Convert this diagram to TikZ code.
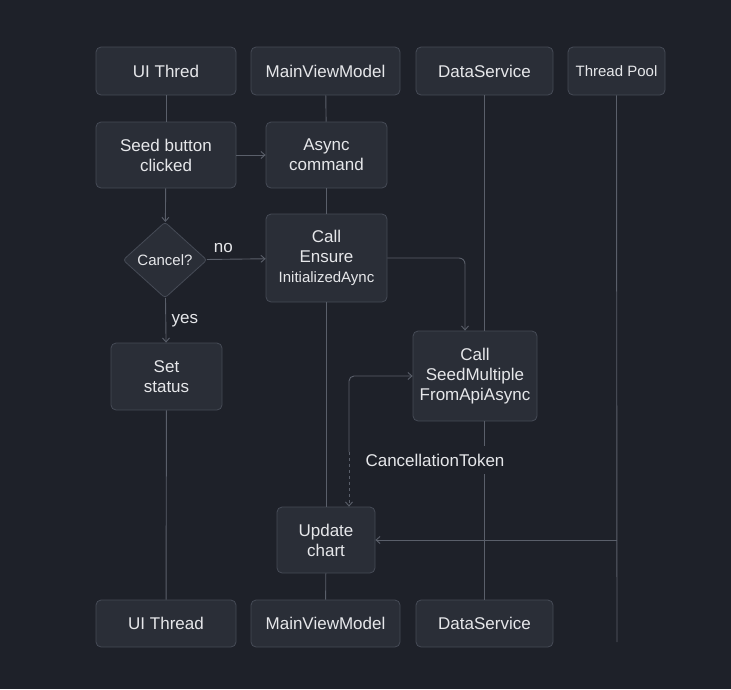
\documentclass[tikz,border=0pt]{standalone}
\usepackage{fontspec}
\setmainfont{Liberation Sans}
\usetikzlibrary{shapes.geometric,arrows.meta}
\definecolor{cbg}{HTML}{1E2129}
\definecolor{cbox}{HTML}{2A2E37}
\definecolor{cedge}{HTML}{464B56}
\definecolor{cline}{HTML}{5A5F6A}
\definecolor{ctext}{HTML}{E6E7EA}
\tikzset{seqdiag/.style={x=1pt,y=-1pt,font=\fontsize{17}{20}\selectfont,text=ctext},
  box/.style={draw=cedge,fill=cbox,rounded corners=5pt,align=center,inner sep=0pt,line width=0.8pt},
  narrow/.style={font=\fontsize{15}{20}\selectfont},
  life/.style={draw=cline,line width=0.9pt},
  flow/.style={life,-{Straight Barb[length=4pt,width=7pt]}}}

\begin{document}
\begin{tikzpicture}[seqdiag]
    \fill[cbg] (0,0) rectangle (731,689);
    % lane headers
    \node[box,minimum width=140pt,minimum height=48pt] (uitop) at (166,71) {UI Thred};
    \node[box,minimum width=149pt,minimum height=48pt] (mvmtop) at (325.5,71) {MainViewModel};
    \node[box,minimum width=137pt,minimum height=48pt] (dstop) at (484.5,71) {DataService};
    \node[box,narrow,minimum width=97pt,minimum height=48pt] (tptop) at (616.5,71) {Thread Pool};
    % steps
    \node[box,minimum width=140pt,minimum height=66pt] (seed) at (166,155) {Seed button\\clicked};
    \node[box,minimum width=121pt,minimum height=66pt] (async) at (326.5,155) {Async\\command};
    \node[box,diamond,narrow,minimum width=84pt,minimum height=76pt,rounded corners=3pt] (cancel) at (165,260) {Cancel?};
    \node[box,minimum width=121pt,minimum height=88pt] (ensure) at (326.5,258) {Call\\Ensure\\{\fontsize{15}{20}\selectfont InitializedAync}};
    \node[box,minimum width=124pt,minimum height=90pt] (seedapi) at (475,376) {Call\\SeedMultiple\\FromApiAsync};
    \node[box,minimum width=111pt,minimum height=67pt] (setst) at (166.5,376.5) {Set\\status};
    \node[box,minimum width=98pt,minimum height=66pt] (update) at (326,540) {Update\\chart};
    \node[inner sep=8pt] (token) at (435,460) {CancellationToken};
    % lane footers
    \node[box,minimum width=140pt,minimum height=47pt] (uibot) at (166,623.5) {UI Thread};
    \node[box,minimum width=149pt,minimum height=47pt] (mvmbot) at (325.5,623.5) {MainViewModel};
    \node[box,minimum width=137pt,minimum height=47pt] (dsbot) at (484.5,623.5) {DataService};
    \coordinate (tpend) at (617,642);
    \coordinate (tpc) at (617,540);
    \coordinate (tokc) at (349,452);
    % lifelines
    \draw[life] (uitop) -- (seed);
    \draw[life] (setst) -- (uibot);
    \draw[life] (mvmtop) -- (async);
    \draw[life] (async) -- (ensure);
    \draw[life] (ensure.south) -- (update.north -| ensure.south);
    \draw[life] (update) -- (mvmbot);
    \draw[life] (dstop.south) -- (dstop.south |- seedapi.north);
    \draw[life] (seedapi.south -| dstop) -- (token.north -| dstop);
    \draw[life] (token.south -| dstop) -- (dsbot);
    \draw[life] (tptop) -- (tpend);
    % messages
    \draw[flow] (seed) -- (async);
    \draw[flow] (seed) -- (cancel);
    \draw[flow] (cancel) -- node[above,pos=0.28,yshift=3pt] {no} (ensure);
    \draw[flow] (cancel) -- node[right,pos=0.5,xshift=2pt] {yes} (setst);
    \draw[flow,rounded corners=6pt] (ensure.east) -| ([xshift=-10pt]seedapi.north);
    \draw[flow,rounded corners=5pt] (tokc) |- (seedapi.west);
    \draw[flow,dashed] (tokc) -- (tokc |- update.north);
    \draw[flow] (tpc) -- (update);
\end{tikzpicture}
\end{document}
